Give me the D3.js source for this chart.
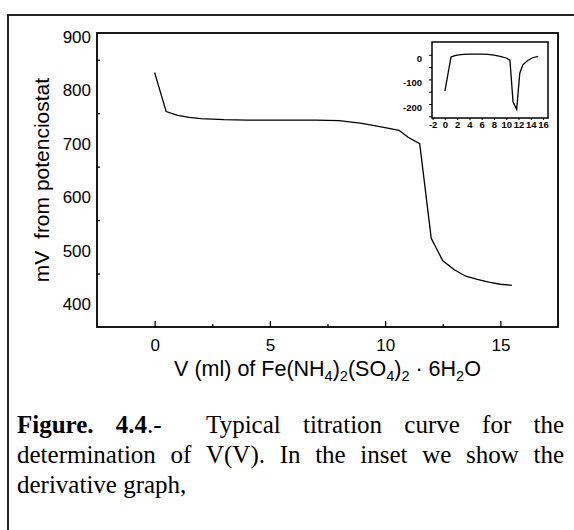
<!DOCTYPE html>
<html>
<head>
<meta charset="utf-8">
<script src="https://cdn.jsdelivr.net/npm/d3@7"></script>
<style>
  body { margin: 0; background: #fff; }
  svg { display: block; }
  text { font-family: "Liberation Sans", Arial, sans-serif; }
</style>
</head>
<body>
<script>
// main titration curve
const volume = [0, 0.5, 1, 1.5, 2, 3, 4, 5, 6, 7, 8, 9, 10, 10.6, 11, 11.5, 12, 12.5, 13, 13.5, 14, 14.5, 15, 15.5];
const potential = [826, 753, 746, 742, 740, 738, 737, 737, 737, 737, 736, 731, 723, 718, 705, 693, 516, 474, 457, 445, 439, 434, 430, 428];

// inset: derivative
const derivVolume = [0, 1, 1.5, 2, 3, 4, 5, 6, 7, 8, 9, 10, 10.6, 11.1, 11.7, 12.2, 12.7, 13.5, 14.3, 15.2];
const derivative = [-148, -9, -4, -1, 2, 3, 3, 3, 2, -1, -6, -13, -22, -191, -222, -75, -41, -23, -12, -6];

const xMajor = [0, 5, 10, 15];
const xMinor = [2.5, 7.5, 12.5];
const yMajor = [400, 500, 600, 700, 800, 900];
const yMinor = [450, 550, 650, 750, 850];
const insetXTicks = [-2, 0, 2, 4, 6, 8, 10, 12, 14, 16];
const insetYTicks = [0, -100, -200];
const insetYMinor = [-50, -150, -250];

// caption words: [segments], spaces before next word
const captionLines = [
  [[[["Figure.", true]], 1], [[["4.4", true], [".-", false]], 2], [[["Typical", false]], 1], [[["titration", false]], 1], [[["curve", false]], 1], [[["for", false]], 1], [[["the", false]], 0]],
  [[[["determination", false]], 1], [[["of", false]], 1], [[["V(V).", false]], 1], [[["In", false]], 1], [[["the", false]], 1], [[["inset", false]], 1], [[["we", false]], 1], [[["show", false]], 1], [[["the", false]], 0]],
  [[[["derivative", false]], 1], [[["graph,", false]], 0]]
];

const plain = d => String(d);   // hyphen minus, like the original

const svg = d3.select("body").append("svg")
    .attr("width", 574)
    .attr("height", 530);

// page frame (runs off the right / bottom edge)
svg.append("rect")
    .attr("x", 8).attr("y", 15)
    .attr("width", 700).attr("height", 700)
    .attr("fill", "none")
    .attr("stroke", "#222")
    .attr("stroke-width", 2);

// ---- main plot
const plot = { left: 97, right: 558, top: 33, bottom: 327 };
const x = d3.scaleLinear().domain([-2.5, 17.5]).range([plot.left, plot.right]);
const y = d3.scaleLinear().domain([350, 900]).range([plot.bottom, plot.top]);

const main = svg.append("g");

main.append("g")
    .attr("transform", `translate(0,${plot.bottom})`)
    .call(d3.axisBottom(x).tickValues(xMajor).tickSizeInner(-6).tickSizeOuter(0).tickPadding(12).tickFormat(plain))
    .call(g => g.select(".domain").remove())
    .call(g => g.selectAll("text").attr("font-size", 17).attr("fill", "#000").attr("font-family", "Liberation Sans, Arial, sans-serif"));

main.append("g")
    .attr("transform", `translate(0,${plot.bottom})`)
    .call(d3.axisBottom(x).tickValues(xMinor).tickSizeInner(-3).tickSizeOuter(0).tickFormat(""))
    .call(g => g.select(".domain").remove());

main.append("g")
    .attr("transform", `translate(${plot.left},0)`)
    .call(d3.axisLeft(y).tickValues(yMajor).tickSizeInner(0).tickSizeOuter(0).tickPadding(6).tickFormat(plain))
    .call(g => g.select(".domain").remove())
    .call(g => g.selectAll("text").attr("font-size", 17).attr("fill", "#000").attr("dy", "9.5px").attr("font-family", "Liberation Sans, Arial, sans-serif"));

main.append("g")
    .attr("transform", `translate(${plot.left},0)`)
    .call(d3.axisLeft(y).tickValues(yMinor).tickSizeInner(-3).tickSizeOuter(0).tickFormat(""))
    .call(g => g.select(".domain").remove());

main.selectAll(".tick line").attr("stroke", "#000").attr("stroke-width", 1.3);

main.append("rect")
    .attr("x", plot.left).attr("y", plot.top)
    .attr("width", plot.right - plot.left).attr("height", plot.bottom - plot.top)
    .attr("fill", "none")
    .attr("stroke", "#000")
    .attr("stroke-width", 1.8);

main.append("path")
    .datum(d3.zip(volume, potential))
    .attr("fill", "none")
    .attr("stroke", "#000")
    .attr("stroke-width", 1.3)
    .attr("d", d3.line().x(d => x(d[0])).y(d => y(d[1])));

// axis titles
svg.append("text")
    .attr("transform", `translate(49,${(plot.top + plot.bottom) / 2}) rotate(-90)`)
    .attr("text-anchor", "middle")
    .attr("font-size", 21)
    .style("white-space", "pre")
    .text("mV  from potenciostat");

const xTitleParts = [["V (ml) of Fe(NH", 0], ["4", 1], [")", 0], ["2", 1], ["(SO", 0], ["4", 1], [")", 0], ["2", 1], [" \u00b7 6H", 0], ["2", 1], ["O", 0]];
const xTitle = svg.append("text")
    .attr("x", (plot.left + plot.right) / 2)
    .attr("y", 376)
    .attr("text-anchor", "middle")
    .attr("font-size", 21.5)
    .style("white-space", "pre");
let prevSub = 0;
for (const [t, sub] of xTitleParts) {
  xTitle.append("tspan")
      .attr("dy", sub === prevSub ? 0 : (sub ? 5 : -5))
      .attr("font-size", sub ? 14.5 : 21.5)
      .text(t);
  prevSub = sub;
}

// ---- inset
const ins = { left: 432, right: 548, top: 42, bottom: 118 };
const ix = d3.scaleLinear().domain([-2.1, 16.8]).range([ins.left, ins.right]);
const iy = d3.scaleLinear().domain([-257, 52]).range([ins.bottom, ins.top]);
const inset = svg.append("g");

inset.append("g")
    .attr("transform", `translate(0,${ins.bottom})`)
    .call(d3.axisBottom(ix).tickValues(insetXTicks).tickSizeInner(2).tickSizeOuter(0).tickPadding(1.5).tickFormat(plain))
    .call(g => g.select(".domain").remove())
    .call(g => g.selectAll("text").attr("font-size", 9.5).attr("font-weight", "bold").attr("fill", "#000").attr("font-family", "Liberation Sans, Arial, sans-serif"));

inset.append("g")
    .attr("transform", `translate(${ins.left},0)`)
    .call(d3.axisLeft(iy).tickValues(insetYTicks).tickSizeInner(3).tickSizeOuter(0).tickPadding(7).tickFormat(plain))
    .call(g => g.select(".domain").remove())
    .call(g => g.selectAll("text").attr("font-size", 9.5).attr("font-weight", "bold").attr("fill", "#000").attr("dy", "6.5px").attr("font-family", "Liberation Sans, Arial, sans-serif"));

inset.append("g")
    .attr("transform", `translate(${ins.left},0)`)
    .call(d3.axisLeft(iy).tickValues(insetYMinor).tickSizeInner(3).tickSizeOuter(0).tickFormat(""))
    .call(g => g.select(".domain").remove());

inset.selectAll(".tick line").attr("stroke", "#000").attr("stroke-width", 1);

inset.append("rect")
    .attr("x", ins.left).attr("y", ins.top)
    .attr("width", ins.right - ins.left).attr("height", ins.bottom - ins.top)
    .attr("fill", "none")
    .attr("stroke", "#000")
    .attr("stroke-width", 1.5);

inset.append("path")
    .datum(d3.zip(derivVolume, derivative))
    .attr("fill", "none")
    .attr("stroke", "#000")
    .attr("stroke-width", 1.3)
    .attr("d", d3.line().x(d => ix(d[0])).y(d => iy(d[1])));

// ---- caption, justified like the document text
const capLeft = 17, capRight = 564, capSize = 25;
const capBase = [433, 463, 493];
captionLines.forEach((words, li) => {
  const nodes = words.map(([segs]) => {
    const t = svg.append("text")
        .attr("y", capBase[li])
        .attr("font-size", capSize)
        .style("font-family", "'Liberation Serif', 'Times New Roman', serif");
    segs.forEach(([s, b]) => t.append("tspan").attr("font-weight", b ? "bold" : "normal").text(s));
    return t;
  });
  const widths = nodes.map(n => n.node().getComputedTextLength());
  const spaces = d3.sum(words, w => w[1]);
  const last = li === captionLines.length - 1;
  const unit = last ? capSize * 0.25 : (capRight - capLeft - d3.sum(widths)) / spaces;
  let cx = capLeft;
  nodes.forEach((n, i) => {
    n.attr("x", cx);
    cx += widths[i] + unit * words[i][1];
  });
});
</script>
</body>
</html>
